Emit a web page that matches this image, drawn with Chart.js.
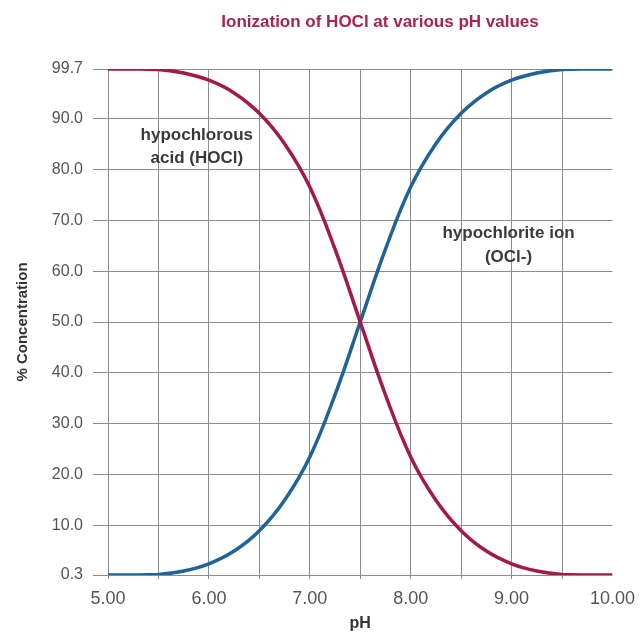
<!DOCTYPE html>
<html>
<head>
<meta charset="utf-8">
<script src="https://cdn.jsdelivr.net/npm/chart.js@4"></script>
<style>
html,body{margin:0;padding:0;background:#fff;}
#wrap{width:644px;height:633px;position:relative;}
</style>
</head>
<body>
<div id="wrap"><canvas id="c"></canvas></div>
<script>
const titleText = 'Ionization of HOCl at various pH values';
const pH = [5.0,5.25,5.5,5.75,6.0,6.25,6.5,6.75,7.0,7.25,7.5,7.75,8.0,8.25,8.5,8.75,9.0,9.25,9.5,9.75,10.0];
const hoclPct = [99.7,99.7,99.6,98.9,97.5,95.0,91.0,85.0,76.5,64.3,50.0,35.7,23.5,15.0,9.0,5.0,2.5,1.1,0.4,0.3,0.3];
const oclPct  = [0.3,0.3,0.4,1.1,2.5,5.0,9.0,15.0,23.5,35.7,50.0,64.3,76.5,85.0,91.0,95.0,97.5,98.9,99.6,99.7,99.7];
const yTicks = [0.3,10,20,30,40,50,60,70,80,90,99.7];
const xTicks = [5,5.5,6,6.5,7,7.5,8,8.5,9,9.5,10];
const xLabelTicks = [5,6,7,8,9,10];
const labels = [
  {lines:['hypochlorous','acid (HOCl)'], x:5.88, y:[86.7,82.1]},
  {lines:['hypochlorite ion','(OCl-)'], x:8.97, y:[67.4,62.8]}
];

const textPlugin = {
  id:'texts',
  afterDraw(chart){
    const ctx = chart.ctx, xs = chart.scales.x, ys = chart.scales.y;
    ctx.save();
    ctx.fillStyle = '#A3264F';
    ctx.font = 'bold 17px "Liberation Sans", Arial, sans-serif';
    ctx.textAlign = 'center'; ctx.textBaseline = 'middle';
    ctx.fillText(titleText, 380, 22);
    ctx.fillStyle = '#3a3a3a';
    ctx.font = 'bold 17px "Liberation Sans", Arial, sans-serif';
    labels.forEach(l => {
      l.lines.forEach((t,i) => ctx.fillText(t, xs.getPixelForValue(l.x), ys.getPixelForValue(l.y[i])));
    });
    ctx.restore();
  }
};

new Chart(document.getElementById('c'), {
  type:'line',
  data:{
    datasets:[
      {label:'HOCl', data:pH.map((v,i)=>({x:v,y:hoclPct[i]})), borderColor:'#A3194A', borderWidth:3.5, pointRadius:0, tension:0.4, fill:false},
      {label:'OCl-', data:pH.map((v,i)=>({x:v,y:oclPct[i]})), borderColor:'#1F6399', borderWidth:3.5, pointRadius:0, tension:0.4, fill:false}
    ]
  },
  options:{
    responsive:true, maintainAspectRatio:false, animation:false,
    layout:{padding:{top:69,right:29,left:0,bottom:0}},
    plugins:{legend:{display:false}, tooltip:{enabled:false}, title:{display:false}},
    scales:{
      x:{
        type:'linear', min:5, max:10,
        afterBuildTicks: s => { s.ticks = xTicks.map(v=>({value:v})); },
        afterFit: s => { s.height = 58; },
        border:{display:false},
        grid:{color: c => c.tick && c.tick.value === 10 ? 'rgba(0,0,0,0)' : '#8c8c8c', lineWidth:1, tickLength:4},
        ticks:{padding:9, color:'#555', font:{family:'"Liberation Sans", Arial, sans-serif', size:18},
          callback: v => xLabelTicks.includes(v) ? v.toFixed(2) : '', autoSkip:false, maxRotation:0},
        title:{display:true, text:'pH', color:'#333', font:{family:'"Liberation Sans", Arial, sans-serif', size:16, weight:'bold'}, padding:{top:0,bottom:0}}
      },
      y:{
        type:'linear', min:0.3, max:99.7,
        afterBuildTicks: s => { s.ticks = yTicks.map(v=>({value:v})); },
        afterFit: s => { s.width = 108; },
        border:{display:false},
        grid:{color:'#8c8c8c', lineWidth:1, tickLength:15},
        ticks:{padding:10, color:'#555', font:{family:'"Liberation Sans", Arial, sans-serif', size:16},
          callback: v => Number(v).toFixed(1), autoSkip:false},
        title:{display:true, text:'% Concentration', color:'#333', font:{family:'"Liberation Sans", Arial, sans-serif', size:15, weight:'bold'}, padding:{top:14,bottom:0}}
      }
    }
  },
  plugins:[textPlugin]
});
</script>
</body>
</html>
